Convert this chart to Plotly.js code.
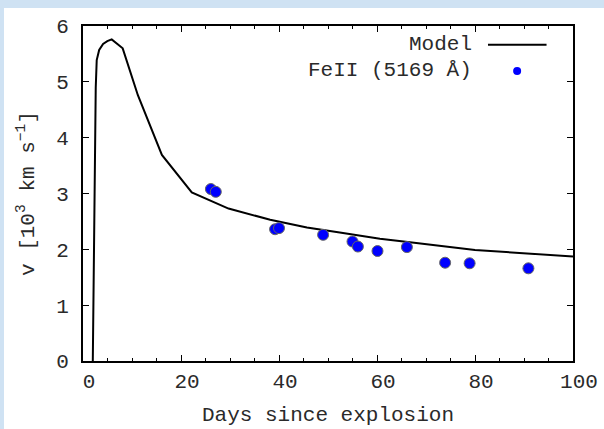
<!DOCTYPE html>
<html>
<head>
<meta charset="utf-8">
<script src="https://cdn.plot.ly/plotly-3.0.1.min.js"></script>
<style>
html,body{margin:0;padding:0;background:#cfe2f3;width:604px;height:429px;overflow:hidden;}
#chart{position:absolute;left:4px;top:8px;width:600px;height:421px;background:#fff;}
</style>
</head>
<body>
<div id="chart"></div>
<script>
// Model curve (days since explosion, velocity in 10^3 km/s)
const modelDays = [2.0, 2.3, 2.45, 2.6, 2.8, 3.3, 4.1, 4.96, 5.86, 8.1, 11.2, 16.1, 22.2, 29.7, 38.2, 45.7, 52.4, 60.6, 66.3, 80.0, 100.0];
const modelVel  = [0.0, 2.5, 4.0, 4.9, 5.39, 5.57, 5.68, 5.73, 5.76, 5.6, 4.76, 3.69, 3.02, 2.73, 2.53, 2.39, 2.30, 2.19, 2.13, 1.99, 1.87];

// FeII (5169 Å) measurements
const feDays = [26.1, 27.1, 39.2, 40.0, 49.0, 55.0, 56.1, 60.1, 66.1, 73.9, 78.9, 90.9];
const feVel  = [3.08, 3.03, 2.36, 2.38, 2.26, 2.14, 2.05, 1.97, 2.04, 1.76, 1.75, 1.66];

const xTickVals = [0, 20, 40, 60, 80, 100];
const yTickVals = [0, 1, 2, 3, 4, 5, 6];

const legendModel = 'Model';
const legendFe = 'FeII (5169 Å)';

const FONT = 'Liberation Mono, Courier New, monospace';
const FS = 21;
const TXT = '#2a2a2a';

const traces = [
  {
    x: modelDays, y: modelVel, type: 'scatter', mode: 'lines',
    line: {color: '#000', width: 2}, name: legendModel, showlegend: false
  },
  {
    x: feDays, y: feVel, type: 'scatter', mode: 'markers',
    marker: {color: '#0000ff', size: 11, line: {color: '#666', width: 1}},
    name: legendFe, showlegend: false
  }
];

const layout = {
  width: 600, height: 421,
  paper_bgcolor: '#fff', plot_bgcolor: '#fff',
  margin: {l: 79, r: 31, t: 18, b: 68},
  font: {family: FONT, size: FS, color: TXT},
  showlegend: false,
  xaxis: {
    range: [0, 100], tickvals: xTickVals, ticks: 'inside', ticklen: 6, tickwidth: 1,
    tickcolor: '#000', mirror: 'ticks', showline: true, linecolor: '#000', linewidth: 2,
    showgrid: false, zeroline: false, ticklabelshift: 6,
    minor: {dtick: 5, tick0: 0, ticks: 'inside', ticklen: 3, tickcolor: '#000', showgrid: false},
    tickfont: {family: FONT, size: FS, color: TXT},
    title: {text: 'Days since explosion', font: {family: FONT, size: FS, color: TXT}, standoff: 13}
  },
  yaxis: {
    range: [0, 6], tickvals: yTickVals, ticks: 'inside', ticklen: 6, tickwidth: 1,
    tickcolor: '#000', mirror: 'ticks', showline: true, linecolor: '#000', linewidth: 2,
    showgrid: false, zeroline: false, ticklabelstandoff: 8,
    tickfont: {family: FONT, size: FS, color: TXT},
    title: {text: 'v [10<sup>3</sup> km s<sup>−1</sup>]', font: {family: FONT, size: FS, color: TXT}, standoff: 16}
  },
  annotations: [
    {xref: 'paper', yref: 'paper', x: 0.797, y: 0.944, xanchor: 'right', yanchor: 'middle',
     text: legendModel, showarrow: false, font: {family: FONT, size: FS, color: TXT}},
    {xref: 'paper', yref: 'paper', x: 0.797, y: 0.866, xanchor: 'right', yanchor: 'middle',
     text: legendFe, showarrow: false, font: {family: FONT, size: FS, color: TXT}}
  ],
  shapes: [
    {type: 'line', xref: 'paper', yref: 'paper', x0: 0.8265, x1: 0.946, y0: 0.944, y1: 0.944,
     line: {color: '#000', width: 2}},
    {type: 'circle', xref: 'paper', yref: 'paper', xsizemode: 'pixel', ysizemode: 'pixel',
     xanchor: 0.886, yanchor: 0.866, x0: -4, x1: 4, y0: -4, y1: 4,
     fillcolor: '#0000ff', line: {width: 0}}
  ]
};

Plotly.newPlot('chart', traces, layout, {displayModeBar: false, staticPlot: true});
</script>
</body>
</html>
